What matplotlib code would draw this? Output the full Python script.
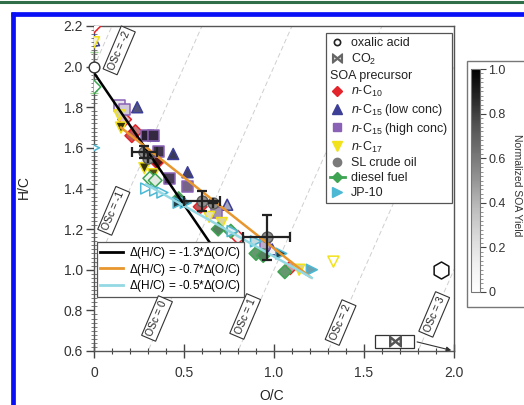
import numpy as np
import matplotlib
matplotlib.use("Agg")
import matplotlib.pyplot as plt
from matplotlib.colors import LinearSegmentedColormap, to_rgb, Normalize
from matplotlib.lines import Line2D
from matplotlib.patches import Rectangle
from matplotlib.ticker import MultipleLocator, FuncFormatter, FixedLocator
import matplotlib.cm as cm

plt.rcParams['font.family'] = ['Liberation Sans', 'DejaVu Sans']
plt.rcParams['mathtext.fontset'] = 'custom'
plt.rcParams['mathtext.rm'] = 'Liberation Sans'
plt.rcParams['mathtext.it'] = 'Liberation Sans:italic'

# ---------------- data ----------------
nC10_oc = [0.00, 0.17, 0.23, 0.21, 0.35, 0.59, 0.80, 1.09]
nC10_hc = [2.20, 1.74, 1.68, 1.66, 1.53, 1.31, 1.16, 1.01]
nC10_yield = [0.0, 0.2, 0.4, 0.5, 0.9, 0.5, 0.05, 0.3]

nC15low_oc = [0.00, 0.24, 0.33, 0.44, 0.52, 0.74, 0.99]
nC15low_hc = [2.13, 1.80, 1.66, 1.57, 1.48, 1.32, 1.10]
nC15low_yield = [0.0, 0.6, 0.7, 0.75, 0.7, 0.3, 0.05]

nC15high_oc = [0.14, 0.17, 0.29, 0.33, 0.36, 0.42, 0.52, 0.68, 0.95]
nC15high_hc = [1.81, 1.79, 1.66, 1.66, 1.58, 1.45, 1.41, 1.28, 1.13]
nC15high_yield = [0.1, 0.2, 0.95, 0.9, 0.85, 0.8, 0.6, 0.4, 0.3]

nC17_oc = [0.00, 0.14, 0.15, 0.28, 0.33, 0.64, 0.71, 1.14, 1.33]
nC17_hc = [2.12, 1.76, 1.70, 1.50, 1.47, 1.26, 1.23, 1.00, 1.04]
nC17_yield = [0.1, 0.3, 1.0, 1.0, 0.9, 0.2, 0.3, 0.3, 0.0]

crude_oc = [0.28, 0.30, 0.60, 0.66, 0.96]
crude_hc = [1.58, 1.55, 1.34, 1.33, 1.16]
crude_xerr = [0.07, 0.0, 0.10, 0.0, 0.13]
crude_yerr = [0.03, 0.0, 0.05, 0.0, 0.11]

diesel_oc = [0.00, 0.31, 0.34, 0.47, 0.69, 0.76, 0.90, 0.94, 1.06]
diesel_hc = [1.90, 1.45, 1.44, 1.35, 1.20, 1.19, 1.08, 1.07, 0.99]
diesel_yield = [0.0, 0.05, 0.1, 0.7, 0.6, 0.4, 0.5, 0.6, 0.5]

jp10_oc = [0.00, 0.29, 0.34, 0.38, 0.47, 0.51, 0.77, 0.90, 1.04, 1.21]
jp10_hc = [1.60, 1.40, 1.39, 1.38, 1.33, 1.33, 1.19, 1.14, 1.08, 1.00]
jp10_yield = [0.0, 0.0, 0.0, 0.05, 0.9, 0.8, 0.1, 0.2, 0.9, 0.5]

oxalic_oc, oxalic_hc = [1.93], [1.00]
start_oc, start_hc = [0.0], [2.0]
diesel_range_oc, diesel_range_hc, diesel_range_err = [0.0], [1.97], [0.10]

fit_slopes = [-1.3, -0.7, -0.5]
fit_x0 = [0.00, 0.15, 0.29]
fit_x1 = [0.67, 1.20, 1.21]
fit_y0 = [1.97, 1.70, 1.42]
fit_colors = ['black', '#e8962e', '#93d8e3']

osc_values = [-2, -1, 0, 1, 2, 3]
osc_label_x = [0.14, 0.11, 0.35, 0.84, 1.37, 1.89]
osc_label_y = [2.08, 1.29, 0.76, 0.77, 0.74, 0.78]

xticks = [0, 0.5, 1.0, 1.5, 2.0]
yticks = [0.6, 0.8, 1.0, 1.2, 1.4, 1.6, 1.8, 2.0, 2.2]
cbar_ticks = [0, 0.2, 0.4, 0.6, 0.8, 1.0]

# ---------------- figure ----------------
W, H = 524, 405
fig = plt.figure(figsize=(W / 100, H / 100), dpi=100)
ax = fig.add_axes([94 / W, 1 - 351 / H, 360 / W, 325 / H])
ax.set_xlim(0, 2.0)
ax.set_ylim(0.6, 2.2)

# OSc iso-lines
xs = np.array([-1.0, 3.0])
for osc, lx, ly in zip(osc_values, osc_label_x, osc_label_y):
    ax.plot(xs, 2 * xs - osc, color='#cfcfcf', lw=0.7, ls=(0, (5, 3)), zorder=1)
    ax.text(lx, ly, f'OSc = {osc}', rotation=67, rotation_mode='anchor',
            ha='center', va='center', fontsize=7.5, color='#222', zorder=6,
            bbox=dict(boxstyle='square,pad=0.25', fc='white', ec='#333', lw=0.8))


def species_cmap(c):
    c = np.array(to_rgb(c))
    mid = 0.5 * c + 0.5 * np.array([0.55, 0.55, 0.55])
    dark = 0.22 * c
    return LinearSegmentedColormap.from_list('sp', [(1, 1, 1), tuple(mid), tuple(dark)])


ms = 62
series = [
    (nC10_oc, nC10_hc, nC10_yield, 'D', '#e3242b', 48),
    (nC15low_oc, nC15low_hc, nC15low_yield, '^', '#3d3f96', ms),
    (nC15high_oc, nC15high_hc, nC15high_yield, 's', '#8a62b5', ms),
    (nC17_oc, nC17_hc, nC17_yield, 'v', '#f2e21c', ms),
    (diesel_oc, diesel_hc, diesel_yield, 'D', '#3ea453', 48),
    (jp10_oc, jp10_hc, jp10_yield, '>', '#4cb8d3', ms),
]
for oc, hc, yl, mk, col, s in series:
    ax.scatter(oc, hc, c=yl, cmap=species_cmap(col), vmin=0, vmax=1, marker=mk,
               s=s, edgecolors=col, linewidths=1.1, zorder=3)

# SL crude oil with error bars
ax.errorbar(crude_oc, crude_hc, xerr=crude_xerr, yerr=crude_yerr, fmt='none',
            ecolor='#222', elinewidth=1.6, capsize=3.5, capthick=1.6, zorder=5)
ax.scatter(crude_oc, crude_hc, marker='o', s=ms, c='#8f8f8f', edgecolors='#5a5a5a',
           linewidths=1.0, zorder=4)

# diesel range on the axis
ax.errorbar(diesel_range_oc, diesel_range_hc, yerr=diesel_range_err, fmt='none',
            ecolor='#9ad28f', elinewidth=1.2, capsize=3, zorder=2, clip_on=False)

# fits
for sl, x0, x1, y0, col in zip(fit_slopes, fit_x0, fit_x1, fit_y0, fit_colors):
    fx = np.array([x0, x1])
    ax.plot(fx, y0 + sl * (fx - x0), color=col, lw=1.8, zorder=4)

# oxalic acid / start point
ax.scatter(start_oc, start_hc, marker='o', s=60, facecolors='white',
           edgecolors='#333', linewidths=1.0, zorder=6, clip_on=False)
ax.scatter(oxalic_oc, oxalic_hc, marker='h', s=150, facecolors='white',
           edgecolors='#111', linewidths=1.1, zorder=6)

# CO2 marker box with arrow
ax.add_patch(Rectangle((1.56, 0.615), 0.22, 0.065, fc='white', ec='#333', lw=0.9, zorder=5))
ax.scatter([1.67], [0.647], marker=r'$\bowtie$', s=70, c='#555', zorder=6)
ax.annotate('', xy=(2.0, 0.60), xytext=(1.78, 0.648),
            arrowprops=dict(arrowstyle='-|>', color='#333', lw=0.8, mutation_scale=7),
            zorder=6, annotation_clip=False)

# axes styling
for sp in ax.spines.values():
    sp.set_color('#555')
    sp.set_linewidth(1.0)
ax.xaxis.set_major_locator(FixedLocator(xticks))
ax.yaxis.set_major_locator(FixedLocator(yticks))
ax.xaxis.set_minor_locator(MultipleLocator(0.1))
ax.yaxis.set_minor_locator(MultipleLocator(0.02))
fmt = FuncFormatter(lambda v, p: '0' if abs(v) < 1e-9 else f'{v:.1f}')
ax.xaxis.set_major_formatter(fmt)
ax.yaxis.set_major_formatter(fmt)
ax.tick_params(axis='x', which='major', direction='inout', length=10, width=1.0,
               color='#444', labelsize=10, labelcolor='#333', pad=6)
ax.tick_params(axis='x', which='minor', direction='inout', length=5, width=0.8, color='#444')
ax.tick_params(axis='y', which='major', direction='out', length=6, width=1.0,
               color='#444', labelsize=10, labelcolor='#333', pad=2)
ax.tick_params(axis='y', which='minor', direction='inout', length=4, width=0.6, color='#666')
ax.set_xlabel('O/C', fontsize=10, color='#222')
ax.set_ylabel('H/C', fontsize=10, color='#222')
ax.xaxis.set_label_coords(0.494, -0.118)
ax.yaxis.set_label_coords(-0.175, 0.505)

# legend 1 (markers)
h = []
h.append(Line2D([], [], ls='none', marker='o', ms=4.5, mfc='white', mec='#222', mew=1.2))
h.append(Line2D([], [], ls='none', marker=r'$\bowtie$', ms=7, color='#666'))
h.append(Line2D([], [], ls='none', marker=None))
h.append(Line2D([], [], ls='none', marker='D', ms=5.5, color='#e3242b'))
h.append(Line2D([], [], ls='none', marker='^', ms=6.5, color='#3d3f96'))
h.append(Line2D([], [], ls='none', marker='s', ms=6, color='#8a62b5'))
h.append(Line2D([], [], ls='none', marker='v', ms=6.5, color='#f2e21c'))
h.append(Line2D([], [], ls='none', marker='o', ms=6, color='#7a7a7a'))
h.append(Line2D([], [], ls='-', lw=2, marker='D', ms=5, color='#3ea453'))
h.append(Line2D([], [], ls='none', marker='>', ms=6.5, color='#4cb8d3'))
labels = ['oxalic acid', r'CO$_2$', 'SOA precursor', r'$\it{n}$-C$_{10}$',
          r'$\it{n}$-C$_{15}$ (low conc)', r'$\it{n}$-C$_{15}$ (high conc)',
          r'$\it{n}$-C$_{17}$', 'SL crude oil', 'diesel fuel', 'JP-10']
leg1 = ax.legend(h, labels, loc='upper right', bbox_to_anchor=(0.994, 0.978),
                 fontsize=9, labelspacing=0.22, handlelength=1.2, handletextpad=0.5,
                 borderpad=0.3, borderaxespad=0, fancybox=False, framealpha=1,
                 edgecolor='#555', frameon=True)
leg1.get_frame().set_linewidth(0.9)
for t in leg1.get_texts():
    t.set_color('#222')
try:
    for col in leg1._legend_handle_box.get_children():
        for row in col.get_children():
            ch = row.get_children()
            if hasattr(ch[1], 'get_text') and ch[1].get_text() == 'SOA precursor':
                ch[0].width = 0
                row.sep = 0
except Exception:
    pass
ax.add_artist(leg1)

# legend 2 (fits)
fh = [Line2D([], [], color=c, lw=2) for c in fit_colors]
fl = [r'$\Delta$(H/C) = -1.3*$\Delta$(O/C)', r'$\Delta$(H/C) = -0.7*$\Delta$(O/C)',
      r'$\Delta$(H/C) = -0.5*$\Delta$(O/C)']
leg2 = ax.legend(fh, fl, loc='lower left', bbox_to_anchor=(0.008, 0.166), fontsize=8.5,
                 labelspacing=0.05, handlelength=2.0, handletextpad=0.5, borderpad=0.25,
                 borderaxespad=0, fancybox=False, framealpha=1, edgecolor='#555')
leg2.get_frame().set_linewidth(0.9)

# colorbar
fig.add_artist(Rectangle((467 / W, 1 - 307 / H), 70 / W, 246 / H, transform=fig.transFigure,
                         fc='white', ec='#777', lw=1.0, zorder=0))
cax = fig.add_axes([471 / W, 1 - 292 / H, 9 / W, 223 / H])
sm = cm.ScalarMappable(norm=Normalize(0, 1), cmap='Greys')
cb = fig.colorbar(sm, cax=cax, ticks=cbar_ticks)
cb.ax.set_yticklabels(['0' if v == 0 else f'{v:.1f}' for v in cbar_ticks])
cb.ax.yaxis.set_minor_locator(MultipleLocator(0.02))
cb.ax.tick_params(which='major', length=4, width=0.8, color='#444', labelsize=9,
                  labelcolor='#333', pad=2)
cb.ax.tick_params(which='minor', length=2, width=0.5, color='#666')
cb.outline.set_edgecolor('#777')
cb.outline.set_linewidth(0.8)
fig.text(517 / W, 1 - 185 / H, 'Normalized SOA Yield', rotation=270, ha='center',
         va='center', fontsize=7.5, color='#333')

# page decorations: green top rule and blue frame
fig.add_artist(Line2D([0, 1], [1 - 1.5 / H, 1 - 1.5 / H], transform=fig.transFigure,
                      color='#2f6e48', lw=2.2))
fig.add_artist(Line2D([13 / W, 13 / W], [0, 1 - 11.5 / H], transform=fig.transFigure,
                      color='#0a10f5', lw=3.4, solid_capstyle='butt'))
fig.add_artist(Line2D([11 / W, 1], [1 - 13.5 / H, 1 - 13.5 / H], transform=fig.transFigure,
                      color='#0a10f5', lw=3.4, solid_capstyle='butt'))

fig.savefig('out.png', dpi=100)
